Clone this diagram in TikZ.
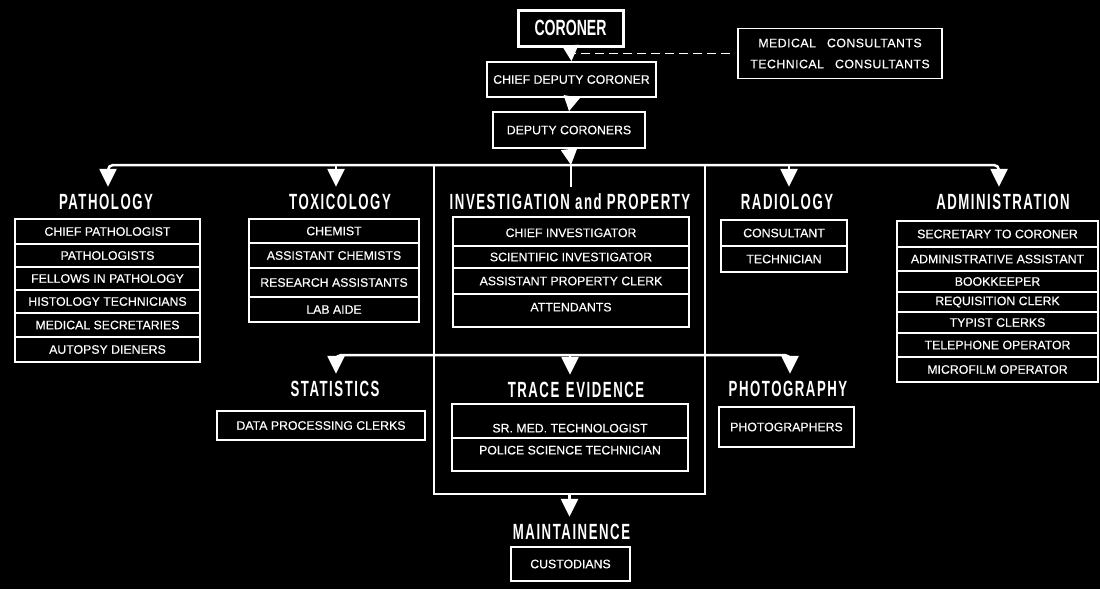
\documentclass[tikz,border=0pt]{standalone}
\usepackage{fontspec}
\setmainfont{Liberation Sans}[FakeBold=0.35]
\newfontfamily\headfont[FakeStretch=0.6,LetterSpace=7]{Liberation Sans}
\newfontfamily\corfont[FakeStretch=0.64]{Liberation Sans}
\newfontfamily\spfont[LetterSpace=4,FakeBold=0.35]{Liberation Sans}
\usetikzlibrary{arrows.meta}
\begin{document}
\begin{tikzpicture}[x=1pt,y=-1pt,
  every node/.style={text=white,inner sep=0pt},
  lab/.style={font=\fontsize{12.3}{14}\selectfont},
  cell/.style={draw=white,line width=1.5pt,lab},
  pcol/.style={cell,minimum width=185pt},
  tcol/.style={cell,minimum width=170pt},
  icol/.style={cell,minimum width=236pt},
  rcol/.style={cell,minimum width=126pt},
  acol/.style={cell,minimum width=201pt},
  title/.style={font=\headfont\bfseries\fontsize{22}{24}\selectfont,text height=16pt,text depth=0pt,inner xsep=0pt,inner ysep=6pt},
  bus/.style={draw=white,line width=2.5pt},
  arr/.style={draw=white,line width=2.5pt,-{Triangle[width=17pt,length=18pt]}},
  dashline/.style={draw=white,line width=1.6pt,dash pattern=on 9pt off 5pt}
]
\fill[black] (0,0) rectangle (1100,589);
\useasboundingbox (0,0) rectangle (1100,589);

% top chain
\node[cell,line width=3pt,minimum width=105pt,minimum height=36pt,font=\corfont\bfseries\fontsize{22}{24}\selectfont] (cor) at (570.5,28) {CORONER};
\node[cell,minimum width=204pt,minimum height=50pt,align=center,font=\spfont\fontsize{12.3}{14}\selectfont] (cons) at (840,53.5) {MEDICAL\hspace{0.9em}CONSULTANTS\\[7pt]TECHNICAL\hspace{0.9em}CONSULTANTS};
\node[cell,minimum width=169pt,minimum height=35pt] (cdc) at (571.5,79.5) {CHIEF DEPUTY CORONER};
\node[cell,minimum width=152pt,minimum height=36pt] (dep) at (569,130) {DEPUTY CORONERS};

\draw[dashline,shorten <=7pt] (cons.west) -- (cons.west -| cor.south);
\draw[arr,-{Triangle[width=16pt,length=16pt]}] (cor.south) -- (cdc.north);
\draw[arr,-{Triangle[width=16pt,length=15pt]}] (cdc.south) -- (dep.north);

% bus 1
\coordinate (b1a) at (108,165);
\coordinate (b1b) at (336,165);
\coordinate (b1c) at (571,165);
\coordinate (b1d) at (789,165);
\coordinate (b1e) at (999,165);
\draw[arr,-{Triangle[width=16pt,length=16pt]}] (dep.south) -- (b1c);

% frame around investigation / trace
\node[draw=white,line width=2.5pt,minimum width=271pt,minimum height=329pt] (frame) at (569.5,329.5) {};

% titles row 1
\node[title] (pathT) at (106,201) {PATHOLOGY};
\node[title] (toxT) at (340,201) {TOXICOLOGY};
\node[title] (invT) at (570,201) {INVESTIGATION and PROPERTY};
\node[title] (radT) at (787,201) {RADIOLOGY};
\node[title] (admT) at (1003,201) {ADMINISTRATION};

\draw[arr,rounded corners=5pt] (b1c) -- (b1a) -- (b1a |- pathT.north);
\draw[arr,rounded corners=5pt] (b1c) -- (b1e) -- (b1e |- admT.north);
\draw[arr] (b1b) -- (b1b |- toxT.north);
\draw[arr] (b1d) -- (b1d |- radT.north);
\draw[bus,line width=2pt] (b1c) -- (b1c |- invT.north);

% pathology
\node[pcol,minimum height=25pt] (p1) at (107.5,231.5) {CHIEF PATHOLOGIST};
\node[pcol,minimum height=23pt] (p2) at (107.5,255.5) {PATHOLOGISTS};
\node[pcol,minimum height=23pt] (p3) at (107.5,278.5) {FELLOWS IN PATHOLOGY};
\node[pcol,minimum height=23pt] (p4) at (107.5,301.5) {HISTOLOGY TECHNICIANS};
\node[pcol,minimum height=24pt] (p5) at (107.5,325) {MEDICAL SECRETARIES};
\node[pcol,minimum height=25pt] (p6) at (107.5,349.5) {AUTOPSY DIENERS};

% toxicology
\node[tcol,minimum height=24pt] (t1) at (334,231) {CHEMIST};
\node[tcol,minimum height=25pt] (t2) at (334,255.5) {ASSISTANT CHEMISTS};
\node[tcol,minimum height=29pt] (t3) at (334,282.5) {RESEARCH ASSISTANTS};
\node[tcol,minimum height=25pt] (t4) at (334,309.5) {LAB AIDE};

% investigation
\node[icol,minimum height=29pt,text height=11pt,text depth=0pt] (i1) at (571,231.5) {CHIEF INVESTIGATOR};
\node[icol,minimum height=22pt] (i2) at (571,257) {SCIENTIFIC INVESTIGATOR};
\node[icol,minimum height=26pt] (i3) at (571,281) {ASSISTANT PROPERTY CLERK};
\node[icol,minimum height=33pt,text height=8.8pt,text depth=7pt] (i4) at (571,310.5) {ATTENDANTS};

% radiology
\node[rcol,minimum height=26pt] (r1) at (784,233) {CONSULTANT};
\node[rcol,minimum height=26pt] (r2) at (784,259) {TECHNICIAN};

% administration
\node[acol,minimum height=26pt] (a1) at (997.5,234) {SECRETARY TO CORONER};
\node[acol,minimum height=24pt] (a2) at (997.5,259) {ADMINISTRATIVE ASSISTANT};
\node[acol,minimum height=21pt] (a3) at (997.5,281.5) {BOOKKEEPER};
\node[acol,minimum height=20pt] (a4) at (997.5,302) {REQUISITION CLERK};
\node[acol,minimum height=21pt] (a5) at (997.5,322.5) {TYPIST CLERKS};
\node[acol,minimum height=24pt] (a6) at (997.5,345) {TELEPHONE OPERATOR};
\node[acol,minimum height=25pt] (a7) at (997.5,369.5) {MICROFILM OPERATOR};

% bus 2
\coordinate (b2a) at (336,355);
\coordinate (b2b) at (570,355);
\coordinate (b2c) at (790,355);

\node[title] (statT) at (335,388) {STATISTICS};
\node[title] (traceT) at (576,389) {TRACE\hspace{0.3em}EVIDENCE};
\node[title] (photoT) at (788,388) {PHOTOGRAPHY};

\draw[arr,rounded corners=5pt] (b2b) -- (b2a) -- (b2a |- statT.north);
\draw[arr,rounded corners=5pt] (b2b) -- (b2c) -- (b2c |- photoT.north);
\draw[arr] (b2b) -- (b2b |- traceT.north);

\node[cell,minimum width=208pt,minimum height=29pt] (s1) at (321,425.5) {DATA PROCESSING CLERKS};
\node[icol,minimum height=34pt,text height=22.8pt,text depth=0pt] (tr1) at (570,421) {SR. MED. TECHNOLOGIST};
\node[icol,minimum height=33pt,text height=8.8pt,text depth=9pt] (tr2) at (570,454.5) {POLICE SCIENCE TECHNICIAN};
\node[cell,minimum width=135pt,minimum height=40pt] (ph1) at (786.5,427) {PHOTOGRAPHERS};

% maintenance
\node[title] (maintT) at (571.5,531) {MAINTAINENCE};
\draw[arr] (frame.south) -- (frame.south |- maintT.north);
\node[cell,minimum width=119pt,minimum height=34pt] (m1) at (570.5,564) {CUSTODIANS};
\end{tikzpicture}
\end{document}
